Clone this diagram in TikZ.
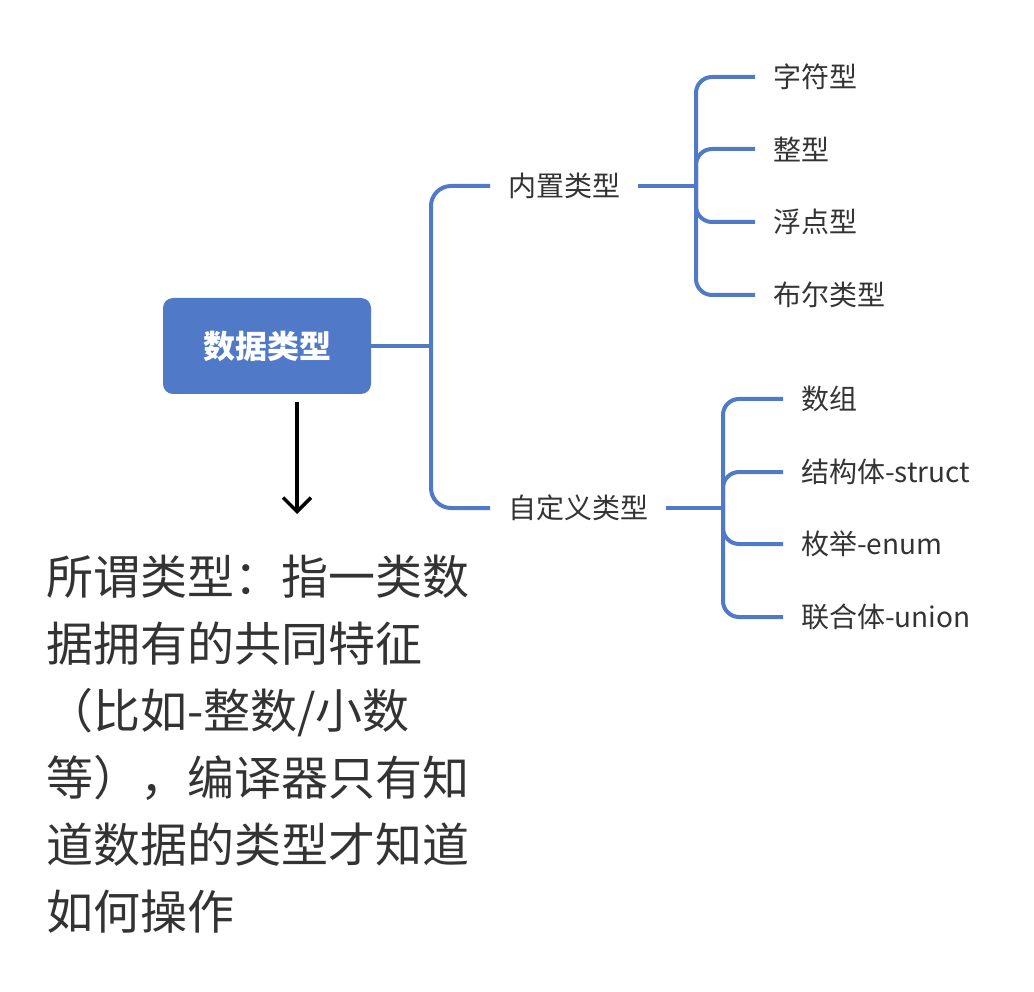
\documentclass[tikz,border=0pt]{standalone}
\usepackage{fontspec}
\setmainfont{Noto Sans CJK SC}
\usetikzlibrary{arrows.meta}
\definecolor{mblue}{HTML}{5079C8}
\definecolor{mtext}{HTML}{333333}
\tikzset{
  link/.style={draw=mblue, line width=4pt, rounded corners=16pt},
  rootlink/.style={draw=mblue, line width=4pt, rounded corners=20pt},
  leaf/.style={anchor=west, inner xsep=18pt, inner ysep=0pt, text=mtext, font=\fontsize{28}{32}\selectfont},
  rootbox/.style={fill=mblue, rounded corners=10pt, minimum width=208pt, minimum height=96pt, text=white, font=\bfseries\fontsize{32}{36}\selectfont},
  bigtext/.style={anchor=base west, inner sep=0pt, text=mtext, font=\fontsize{47}{52}\selectfont},
}
\begin{document}
\begin{tikzpicture}[x=1pt,y=-1pt]
\useasboundingbox (0,0) rectangle (1034,992);
\node[rootbox] (root) at (267,346) {数据类型};
\coordinate (J0) at (431,346);
\node[leaf] (n1) at (490,186) {内置类型};
\node[leaf] (n2) at (490,508) {自定义类型};
\coordinate (J1) at (696,186);
\coordinate (J2) at (723,508);
\node[leaf] (a1) at (755,77) {字符型};
\node[leaf] (a2) at (755,149) {整型};
\node[leaf] (a3) at (755,222) {浮点型};
\node[leaf] (a4) at (755,295) {布尔类型};
\node[leaf] (b1) at (783,399) {数组};
\node[leaf] (b2) at (783,472) {结构体-struct};
\node[leaf] (b3) at (783,544) {枚举-enum};
\node[leaf] (b4) at (783,617) {联合体-union};
\draw[link] (root.east) -- (J0);
\draw[rootlink] (J0) |- (n1.west);
\draw[rootlink] (J0) |- (n2.west);
\draw[link] (n1.east) -- (J1);
\draw[link] (n2.east) -- (J2);
\foreach \c in {a1,a2,a3,a4} \draw[link] (J1) |- (\c.west);
\foreach \c in {b1,b2,b3,b4} \draw[link] (J2) |- (\c.west);
\node[bigtext] (t1) at (46,594) {所谓类型：指一类数};
\node[bigtext] (t2) at (46,661) {据拥有的共同特征};
\node[bigtext] (t3) at (46,728) {（比如-整数/小数};
\node[bigtext] (t4) at (46,795) {等），编译器只有知};
\node[bigtext] (t5) at (46,862) {道数据的类型才知道};
\node[bigtext] (t6) at (46,929) {如何操作};
\coordinate (A0) at (297,402);
\coordinate (A1) at (297,514);
\draw[line width=3.5pt, -{Straight Barb[length=14pt,width=28pt]}] (A0) -- (A1);
\end{tikzpicture}
\end{document}
